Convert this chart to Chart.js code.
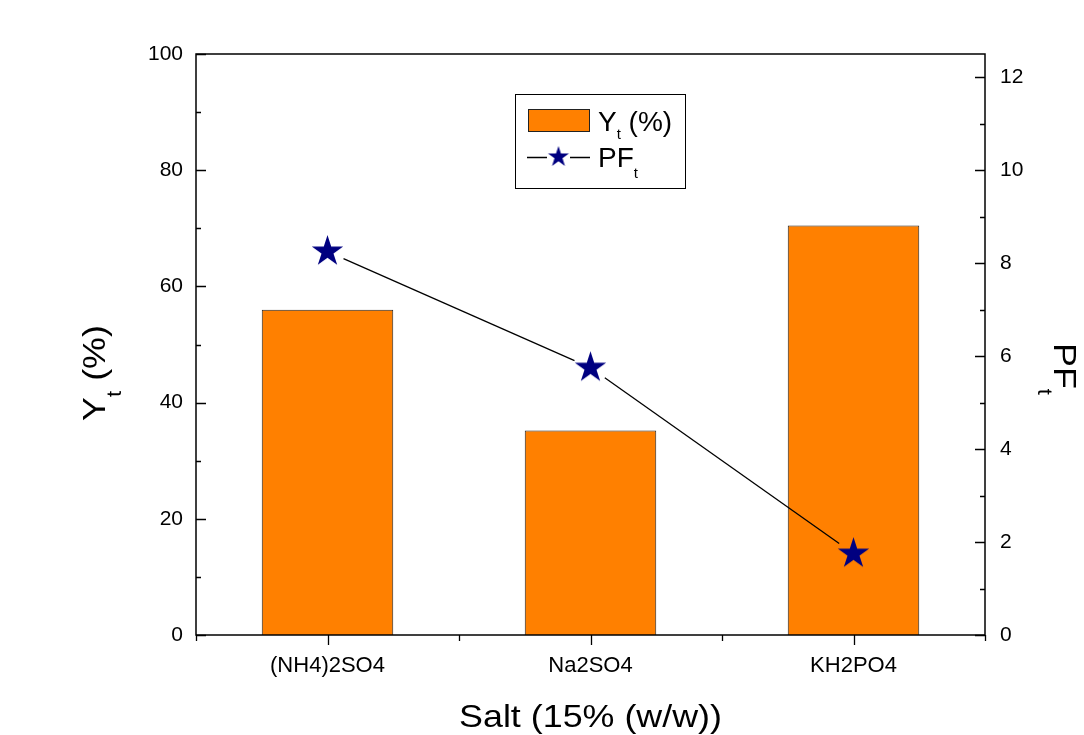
<!DOCTYPE html>
<html>
<head>
<meta charset="utf-8">
<script src="https://cdn.jsdelivr.net/npm/chart.js@4.4.0/dist/chart.umd.min.js"></script>
<style>
  html, body { margin: 0; padding: 0; background: #ffffff; }
  #wrap { width: 1084px; height: 735px; }
</style>
</head>
<body>
<div id="wrap"><canvas id="chart" width="1084" height="735"></canvas></div>
<script>
// Salt systems and measured values
const salts = ['(NH4)2SO4', 'Na2SO4', 'KH2PO4'];
const yieldPct = [56.0, 35.2, 70.5];     // Y_t (%)
const pfValues = [8.25, 5.75, 1.75];     // PF_t
const yieldTicks = [0, 20, 40, 60, 80, 100];
const pfTicks = [0, 2, 4, 6, 8, 10, 12];

const FONT = '"Liberation Sans", Arial, Helvetica, sans-serif';
const BAR_COLOR = '#FF8000';
const STAR_COLOR = '#000080';

// Filled five-point star sprite used as point style
function makeStar(outerR) {
  const size = Math.ceil(outerR * 2 + 4);
  const cv = document.createElement('canvas');
  cv.width = size; cv.height = size;
  const g = cv.getContext('2d');
  const cx = size / 2, cy = size / 2, innerR = outerR * 0.382;
  g.beginPath();
  for (let i = 0; i < 10; i++) {
    const r = i % 2 === 0 ? outerR : innerR;
    const a = -Math.PI / 2 + i * Math.PI / 5;
    const px = cx + r * Math.cos(a), py = cy + r * Math.sin(a);
    if (i === 0) g.moveTo(px, py); else g.lineTo(px, py);
  }
  g.closePath();
  g.fillStyle = STAR_COLOR;
  g.fill();
  return cv;
}
const bigStar = makeStar(16.5);
const smallStar = makeStar(11);

// Text with sub-scripted pieces and optional horizontal stretch
function richWidth(ctx, parts, sx) {
  let w = 0;
  for (const p of parts) { ctx.font = p.size + 'px ' + FONT; w += ctx.measureText(p.t).width * sx; }
  return w;
}
function drawRich(ctx, parts, x, y, align, sx) {
  const total = richWidth(ctx, parts, sx);
  let cx = align === 'center' ? x - total / 2 : x;
  ctx.save();
  ctx.fillStyle = '#000';
  ctx.textBaseline = 'alphabetic';
  ctx.textAlign = 'left';
  for (const p of parts) {
    ctx.font = p.size + 'px ' + FONT;
    ctx.save();
    ctx.translate(cx, y + (p.dy || 0));
    ctx.scale(sx, 1);
    ctx.fillText(p.t, 0, 0);
    ctx.restore();
    cx += ctx.measureText(p.t).width * sx;
  }
  ctx.restore();
}

// Connecting line for PF_t, broken around each marker
const gapLine = {
  id: 'gapLine',
  beforeDatasetDraw(chart, args) {
    if (args.index !== 0) return;
    const pts = chart.getDatasetMeta(0).data;
    const ctx = chart.ctx;
    const gap = 17.5;
    ctx.save();
    ctx.strokeStyle = '#000';
    ctx.lineWidth = 1.3;
    for (let i = 0; i < pts.length - 1; i++) {
      const a = pts[i], b = pts[i + 1];
      const dx = b.x - a.x, dy = b.y - a.y;
      const len = Math.hypot(dx, dy);
      const ux = dx / len, uy = dy / len;
      ctx.beginPath();
      ctx.moveTo(a.x + ux * gap, a.y + uy * gap);
      ctx.lineTo(b.x - ux * gap, b.y - uy * gap);
      ctx.stroke();
    }
    ctx.restore();
  }
};

// Frame, inward/outward ticks, axis titles and legend
const decorations = {
  id: 'decorations',
  afterDraw(chart) {
    const ctx = chart.ctx;
    const ca = chart.chartArea;
    const x = chart.scales.x, y = chart.scales.y, y2 = chart.scales.y2;
    ctx.save();
    ctx.strokeStyle = '#000';
    ctx.lineWidth = 1.5;
    ctx.strokeRect(ca.left, ca.top, ca.right - ca.left, ca.bottom - ca.top);

    ctx.lineWidth = 1.3;
    ctx.beginPath();
    // left axis: majors and minors pointing inward
    for (let v = 0; v <= 100; v += 10) {
      const py = Math.round(y.getPixelForValue(v)) + 0.5;
      const len = v % 20 === 0 ? 10 : 5;
      ctx.moveTo(ca.left, py); ctx.lineTo(ca.left + len, py);
    }
    // right axis: majors and minors pointing inward
    for (let v = 0; v <= 12; v += 1) {
      const py = Math.round(y2.getPixelForValue(v)) + 0.5;
      const len = v % 2 === 0 ? 10 : 5;
      ctx.moveTo(ca.right, py); ctx.lineTo(ca.right - len, py);
    }
    // bottom axis: category ticks and boundary ticks pointing outward
    for (let i = 0; i < salts.length; i++) {
      const px = Math.round(x.getPixelForValue(i)) + 0.5;
      ctx.moveTo(px, ca.bottom); ctx.lineTo(px, ca.bottom + 10);
    }
    for (let i = 0; i <= salts.length; i++) {
      const px = Math.round(x.getPixelForValue(i - 0.5)) + 0.5;
      ctx.moveTo(px, ca.bottom); ctx.lineTo(px, ca.bottom + 6);
    }
    ctx.stroke();

    // x title
    drawRich(ctx, [{ t: 'Salt (15% (w/w))', size: 32 }], (ca.left + ca.right) / 2, 727, 'center', 1.12);

    // left title, rotated
    ctx.save();
    ctx.translate(105, 373);
    ctx.rotate(-Math.PI / 2);
    drawRich(ctx, [{ t: 'Y', size: 32 }, { t: 't', size: 20, dy: 16 }, { t: ' (%)', size: 32 }], 0, 0, 'center', 1.12);
    ctx.restore();

    // right title, rotated
    ctx.save();
    ctx.translate(1054, 343);
    ctx.rotate(Math.PI / 2);
    drawRich(ctx, [{ t: 'PF', size: 32 }, { t: 't', size: 20, dy: 16 }], 0, 0, 'left', 1.12);
    ctx.restore();

    // legend box
    const lx = 515, ly = 94, lw = 170, lh = 94;
    ctx.fillStyle = '#fff';
    ctx.fillRect(lx, ly, lw, lh);
    ctx.strokeStyle = '#000';
    ctx.lineWidth = 1;
    ctx.strokeRect(lx + 0.5, ly + 0.5, lw, lh);

    ctx.fillStyle = BAR_COLOR;
    ctx.fillRect(528, 109, 62, 23);
    ctx.strokeStyle = '#222';
    ctx.strokeRect(528.5, 109.5, 61, 22);
    drawRich(ctx, [{ t: 'Y', size: 28 }, { t: 't', size: 15, dy: 8 }, { t: ' (%)', size: 28 }], 598, 131, 'left', 1.0);

    ctx.strokeStyle = '#000';
    ctx.lineWidth = 1.3;
    ctx.beginPath();
    ctx.moveTo(527, 157.5); ctx.lineTo(547, 157.5);
    ctx.moveTo(570, 157.5); ctx.lineTo(590, 157.5);
    ctx.stroke();
    ctx.drawImage(smallStar, 558.5 - smallStar.width / 2, 157 - smallStar.height / 2);
    drawRich(ctx, [{ t: 'PF', size: 28 }, { t: 't', size: 15, dy: 11 }], 598, 167, 'left', 1.0);

    ctx.restore();
  }
};

new Chart(document.getElementById('chart'), {
  type: 'bar',
  data: {
    labels: salts,
    datasets: [
      {
        type: 'line',
        label: 'PF_t',
        data: pfValues,
        yAxisID: 'y2',
        showLine: false,
        pointStyle: bigStar,
        pointRadius: 17,
        order: 0
      },
      {
        type: 'bar',
        label: 'Y_t (%)',
        data: yieldPct,
        yAxisID: 'y',
        backgroundColor: BAR_COLOR,
        borderColor: '#222',
        borderWidth: 1,
        barPercentage: 1.0,
        categoryPercentage: 0.5,
        order: 1
      }
    ]
  },
  options: {
    responsive: false,
    devicePixelRatio: 1,
    animation: false,
    layout: { padding: { top: 54, left: 0, right: 0, bottom: 0 } },
    plugins: { legend: { display: false }, tooltip: { enabled: false } },
    scales: {
      x: {
        type: 'category',
        offset: true,
        grid: { display: false, drawTicks: false },
        border: { display: false },
        ticks: { color: '#000', font: { family: FONT, size: 22 }, padding: 18, maxRotation: 0 },
        afterFit(s) { s.height = 100; }
      },
      y: {
        position: 'left',
        min: 0, max: 100,
        grid: { display: false, drawTicks: false },
        border: { display: false },
        ticks: { color: '#000', font: { family: FONT, size: 21 }, padding: 13 },
        afterBuildTicks(s) { s.ticks = yieldTicks.map(v => ({ value: v })); },
        afterFit(s) { s.width = 196; }
      },
      y2: {
        position: 'right',
        min: 0, max: 12.5,
        grid: { display: false, drawTicks: false },
        border: { display: false },
        ticks: { color: '#000', font: { family: FONT, size: 21 }, padding: 15 },
        afterBuildTicks(s) { s.ticks = pfTicks.map(v => ({ value: v })); },
        afterFit(s) { s.width = 99; }
      }
    }
  },
  plugins: [gapLine, decorations]
});
</script>
</body>
</html>
